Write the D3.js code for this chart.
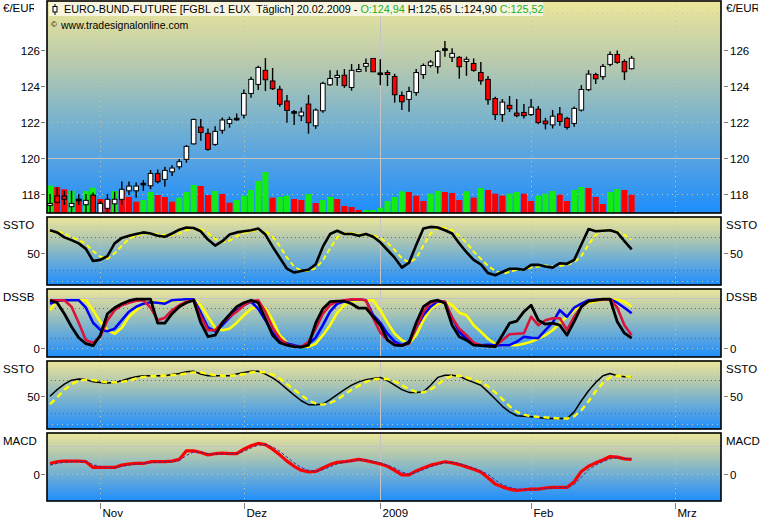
<!DOCTYPE html>
<html><head><meta charset="utf-8">
<script src="https://cdn.jsdelivr.net/npm/d3@7/dist/d3.min.js"></script>
<style>
body{margin:0;background:#fff;}
text{font-family:"Liberation Sans",Arial,sans-serif;white-space:pre;}
</style>
</head><body><svg id="c" width="769" height="520"></svg>
<script>
// ---------- DATA ----------
const dates = [
 "2008-10-23","2008-10-24","2008-10-27","2008-10-28","2008-10-29","2008-10-30","2008-10-31",
 "2008-11-03","2008-11-04","2008-11-05","2008-11-06","2008-11-07","2008-11-10","2008-11-11","2008-11-12","2008-11-13","2008-11-14",
 "2008-11-17","2008-11-18","2008-11-19","2008-11-20","2008-11-21","2008-11-24","2008-11-25","2008-11-26","2008-11-27","2008-11-28",
 "2008-12-01","2008-12-02","2008-12-03","2008-12-04","2008-12-05","2008-12-08","2008-12-09","2008-12-10","2008-12-11","2008-12-12",
 "2008-12-15","2008-12-16","2008-12-17","2008-12-18","2008-12-19","2008-12-22","2008-12-23","2008-12-29","2008-12-30",
 "2009-01-02","2009-01-05","2009-01-06","2009-01-07","2009-01-08","2009-01-09","2009-01-12","2009-01-13","2009-01-14","2009-01-15","2009-01-16",
 "2009-01-19","2009-01-20","2009-01-21","2009-01-22","2009-01-23","2009-01-26","2009-01-27","2009-01-28","2009-01-29","2009-01-30",
 "2009-02-02","2009-02-03","2009-02-04","2009-02-05","2009-02-06","2009-02-09","2009-02-10","2009-02-11","2009-02-12","2009-02-13",
 "2009-02-16","2009-02-17","2009-02-18","2009-02-19","2009-02-20"];
const futureDates = ["2009-02-23","2009-02-24","2009-02-25","2009-02-26","2009-02-27","2009-03-02"];

const open  = [117.37,117.90,117.89,117.30,117.67,117.41,117.94,116.85,117.21,117.46,117.71,118.18,118.18,118.55,118.46,119.14,118.81,119.23,119.51,119.92,
 120.78,121.71,121.36,120.75,121.53,121.91,122.15,122.37,123.57,124.07,124.85,124.26,123.80,123.15,122.52,122.33,122.98,121.78,122.61,124.05,
 124.46,124.58,123.90,124.79,125.07,125.51,124.66,124.73,124.51,123.46,123.24,123.62,124.62,125.12,125.05,126.00,125.57,125.57,125.34,125.23,
 124.73,124.35,123.29,122.40,122.91,122.48,122.52,122.40,122.70,122.04,121.83,122.43,122.19,121.91,122.65,123.78,124.62,124.50,125.18,125.73,125.34,124.94];
const high  = [118.00,118.37,118.18,118.18,118.00,118.00,118.08,117.60,118.00,118.13,118.70,118.70,118.64,118.78,119.33,119.36,119.51,119.60,119.94,120.71,
 122.18,122.15,121.63,121.76,122.24,122.28,122.46,123.79,124.50,125.10,125.53,124.98,123.99,123.48,122.65,122.80,123.48,122.74,124.22,124.86,
 124.86,124.92,125.20,125.20,125.51,125.51,125.47,124.86,124.66,123.68,123.94,124.92,125.23,125.42,125.98,126.47,126.07,125.64,125.61,125.51,
 125.31,124.53,123.39,123.26,123.43,123.26,122.98,123.26,122.87,122.22,122.65,122.82,122.28,122.85,124.03,124.86,124.71,125.20,125.90,125.95,125.46,125.65];
const low   = [116.90,117.48,117.40,116.93,117.40,116.93,116.70,116.70,116.99,116.93,117.40,117.95,117.80,118.18,118.27,118.59,118.40,119.00,119.36,119.73,
 120.74,120.95,120.40,120.67,121.34,121.67,122.06,122.18,123.33,123.76,123.70,123.76,122.83,121.95,121.82,122.04,121.34,121.61,122.50,124.00,
 124.00,123.88,123.72,124.75,124.77,124.77,124.03,123.98,123.06,122.65,122.56,123.44,124.38,125.01,124.68,125.60,125.31,124.38,124.55,124.77,
 124.05,122.94,122.10,122.00,122.54,122.25,122.18,122.32,121.86,121.58,121.63,121.78,121.58,121.72,122.57,123.70,124.09,124.33,125.08,125.21,124.31,124.90];
const close = [117.48,117.54,117.71,117.48,117.67,117.65,116.85,117.48,117.71,117.71,118.26,118.44,118.44,118.55,119.14,118.68,119.31,119.44,119.79,120.64,
 122.13,121.41,120.47,121.47,122.10,122.13,122.15,123.57,124.35,125.01,124.33,123.83,122.97,122.63,122.52,122.54,121.95,122.65,124.13,124.40,
 124.57,124.00,124.85,124.90,125.23,124.77,124.66,124.62,123.50,123.11,123.68,124.73,125.12,125.31,125.90,126.00,125.79,125.05,125.46,124.85,
 124.27,123.22,122.40,123.09,122.72,122.34,122.34,122.81,121.96,121.89,122.31,122.02,121.69,122.74,123.79,124.64,124.38,125.07,125.73,125.29,124.77,125.52];

const volume = [683,650,593,550,350,550,633,350,325,550,550,400,283,325,525,450,400,283,383,525,
 700,675,450,550,475,258,325,433,575,800,1025,383,400,433,350,325,475,250,325,400,
 350,175,150,75,75,75,133,300,400,542,525,433,300,483,550,525,500,325,542,383,
 625,575,483,433,483,525,483,300,433,483,550,458,300,575,650,625,400,225,525,600,575,458];
const volUp = [1,0,0,1,0,1,1,0,0,1,0,0,0,1,1,0,0,0,1,1,
 1,0,0,1,0,0,1,1,1,1,1,0,1,1,0,0,1,0,1,1,
 0,0,0,0,1,1,1,1,1,1,0,0,0,1,1,0,0,0,1,0,
 1,0,0,0,1,1,0,0,1,1,1,0,0,1,1,0,0,0,1,1,0,0];

const sstoK = [92,88,79,74,68,58,36,38,45,68,78,82,85,88,86,82,80,86,93,97,
 96,90,75,64,72,84,88,90,92,95,84,62,42,22,15,18,20,30,62,85,
 91,85,85,82,85,80,70,56,42,24,33,65,95,98,97,92,86,68,52,38,
 30,14,10,16,22,22,20,29,29,26,24,32,31,38,66,94,90,91,92,88,72,57];
const sstoD = [89,90,86,80,74,67,54,44,40,50,64,76,82,85,86,85,83,83,86,92,
 95,94,87,76,70,73,81,87,90,92,90,80,63,42,26,18,18,23,37,59,
 79,87,87,84,84,82,78,69,56,41,33,41,64,86,97,96,92,82,69,53,
 40,27,18,13,16,20,21,24,26,28,26,27,29,34,45,66,83,92,91,90,83,76];

const dssbBlack = [95,90,68,42,20,8,4,25,68,80,88,94,97,97,97,49,49,68,82,90,
 95,50,22,25,50,66,82,90,95,90,58,25,10,5,2,1,5,49,78,92,
 93,93,88,79,79,62,45,15,5,4,10,50,82,92,95,89,45,22,15,5,
 4,3,2,25,49,53,72,85,55,47,49,45,25,52,82,93,95,97,97,52,29,19];
const dssbRed = [95,95,95,82,50,15,10,22,55,75,85,90,94,95,80,55,60,75,85,92,
 95,62,35,35,50,62,72,85,93,95,72,40,19,6,3,2,12,38,68,85,
 92,95,97,97,95,59,30,15,6,5,8,40,72,90,94,92,60,38,25,10,
 5,3,3,15,27,28,29,62,45,55,59,59,35,62,82,93,95,96,97,80,45,25];
const dssbBlue = [88,94,95,95,95,80,50,36,33,38,55,72,82,88,91,90,88,95,96,97,
 97,70,40,33,45,60,75,85,92,78,55,30,15,9,5,2,8,20,45,72,
 88,93,96,97,95,65,50,28,12,5,12,40,65,82,93,92,60,32,18,8,
 5,6,5,5,5,12,22,20,19,35,50,75,62,80,88,95,96,97,97,90,80,69];
const dssbYellow = [75,93,95,95,95,95,75,52,35,28,40,62,75,88,92,92,92,93,95,96,
 97,85,62,40,35,38,50,65,78,82,79,55,25,10,4,2,2,8,25,45,
 70,85,92,95,95,95,75,50,28,15,8,25,55,78,88,92,85,70,65,45,
 32,18,8,5,5,5,8,12,18,25,35,49,62,75,85,90,93,96,97,96,92,82];

const ssto2K = [50,62,72,79,81,80,76,75,74,75,78,82,85,87,87,87,87,89,91,94,
 95,90,87,87,87,87,90,93,95,95,90,83,74,63,52,42,35,35,36,44,
 53,62,70,76,80,82,84,78,70,62,57,57,58,70,84,88,88,86,80,75,
 70,58,45,32,22,15,14,13,12,10,10,10,10,22,42,60,75,87,91,87,85,85];
const ssto2D = [36,48,62,72,78,80,79,77,75,75,76,78,82,85,86,87,87,88,89,91,
 93,93,90,88,87,87,88,90,93,94,93,89,82,72,62,52,43,37,35,38,
 44,53,62,69,76,80,82,81,77,70,63,58,57,62,71,81,87,87,84,80,
 75,68,57,45,32,22,17,14,13,12,11,10,10,14,25,41,59,74,84,87,86,85];

const macd = [0.19,0.22,0.23,0.23,0.23,0.22,0.12,0.12,0.12,0.12,0.16,0.18,0.19,0.19,0.22,0.22,0.22,0.23,0.26,0.41,
 0.41,0.38,0.34,0.36,0.37,0.36,0.36,0.44,0.50,0.54,0.52,0.44,0.34,0.23,0.14,0.07,0.04,0.05,0.11,0.17,
 0.21,0.22,0.24,0.26,0.24,0.21,0.18,0.14,0.07,-0.01,-0.01,0.06,0.11,0.16,0.19,0.22,0.20,0.17,0.13,0.09,
 0.04,-0.06,-0.17,-0.22,-0.26,-0.28,-0.27,-0.26,-0.26,-0.24,-0.23,-0.23,-0.23,-0.13,0.05,0.14,0.20,0.25,0.31,0.30,0.27,0.26];
const macdSignal = [0.16,0.19,0.21,0.22,0.23,0.22,0.17,0.13,0.12,0.12,0.14,0.16,0.18,0.19,0.20,0.21,0.22,0.22,0.24,0.33,
 0.39,0.39,0.36,0.35,0.36,0.36,0.36,0.40,0.46,0.51,0.52,0.48,0.40,0.30,0.20,0.12,0.07,0.05,0.08,0.13,
 0.18,0.21,0.23,0.25,0.25,0.23,0.20,0.16,0.11,0.04,0.00,0.03,0.08,0.13,0.17,0.20,0.21,0.19,0.15,0.11,
 0.06,0.00,-0.10,-0.18,-0.23,-0.26,-0.27,-0.27,-0.26,-0.25,-0.24,-0.23,-0.23,-0.18,-0.05,0.08,0.16,0.22,0.27,0.29,0.28,0.27];

const priceTicks = [118,120,122,124,126];
const priceGrid = [118,122,124,126,128];
const monthTicks = [
 {date:"2008-11-03",label:"Nov",year:false},
 {date:"2008-12-01",label:"Dez",year:false},
 {date:"2009-01-02",label:"2009",year:true},
 {date:"2009-02-02",label:"Feb",year:false},
 {date:"2009-03-02",label:"Mrz",year:false}];

// ---------- LAYOUT ----------
const svg = d3.select("#c");
const L = 47, R = 721;
const P = {
  main:{top:1,bottom:213},
  ssto:{top:217,bottom:285},
  dssb:{top:289,bottom:357},
  ssto2:{top:361,bottom:429},
  macd:{top:433,bottom:501}
};
const allDates = dates.concat(futureDates);
const idx = d => allDates.indexOf(d);
const x = d3.scaleLinear().domain([0, 87]).range([50, 674.7]);

const yMain = d3.scaleLinear().domain([116.95, 128.69]).range([213, 1]);
const ySsto = d3.scaleLinear().domain([0,100]).range([280.8, 225.8]);
const yDssb = d3.scaleLinear().domain([0,100]).range([347.7, 297.7]);
const ySsto2 = d3.scaleLinear().domain([0,100]).range([424.1, 368.5]);
const yMacd = d3.scaleLinear().domain([0,0.5]).range([474.3, 445.7]);
const vH = d3.scaleLinear().domain([0,1100]).range([0,44]);

const defs = svg.append("defs");
const g = defs.append("linearGradient").attr("id","bg").attr("x1",0).attr("y1",0).attr("x2",0).attr("y2",1);
[[0,"#ece69a"],[0.3,"#b6c9ae"],[0.55,"#7cb4cc"],[0.8,"#4a9ee8"],[1,"#1c8efc"]]
  .forEach(s=>g.append("stop").attr("offset",s[0]).attr("stop-color",s[1]));

svg.append("rect").attr("width",769).attr("height",520).attr("fill","#fff");

Object.entries(P).forEach(([k,p])=>{
  defs.append("clipPath").attr("id","clip-"+k).append("rect")
    .attr("x",L).attr("y",p.top).attr("width",R-L).attr("height",p.bottom-p.top);
  svg.append("rect").attr("x",L).attr("y",p.top).attr("width",R-L).attr("height",p.bottom-p.top)
    .attr("fill","url(#bg)");
});

const gridDot = "#c9c6a6", gridDark = "#6c6c6c", gridSolid = "#c4c4c4";
function hLine(panel, y, color, dash, w){
  svg.append("line").attr("x1",L).attr("x2",R).attr("y1",y).attr("y2",y)
    .attr("stroke",color).attr("stroke-width",w||1).attr("stroke-dasharray",dash||null)
    .attr("clip-path","url(#clip-"+panel+")");
}
Object.entries(P).forEach(([k,p])=>{
  monthTicks.forEach(t=>{
    const xx = Math.round(x(idx(t.date)))+0.5;
    svg.append("line").attr("x1",xx).attr("x2",xx).attr("y1",p.top).attr("y2",p.bottom)
      .attr("stroke", t.year ? gridSolid : gridDot).attr("stroke-width",1)
      .attr("stroke-dasharray", t.year ? null : "1,4");
  });
});
priceGrid.forEach(v=>hLine("main", Math.round(yMain(v))+0.5, gridDot, "1,4"));
hLine("main", Math.round(yMain(120))+0.5, gridSolid, null);
[[ySsto,"ssto"],[ySsto2,"ssto2"]].forEach(([s,k])=>{
  hLine(k, Math.round(s(80))+0.5, gridDark, "1,3");
  hLine(k, Math.round(s(20))+0.5, gridDark, "1,3");
  hLine(k, Math.round(s(100))+0.5, gridDot, "1,4");
  hLine(k, Math.round(s(0))+0.5, gridDot, "1,4");
});
hLine("dssb", Math.round(yDssb(80))+0.5, gridDark, "1,3");
hLine("dssb", Math.round(yDssb(20))+0.5, gridDark, "1,3");
hLine("dssb", Math.round(yDssb(100))+0.5, gridSolid, null);
hLine("dssb", Math.round(yDssb(0))+0.5, gridDot, "1,4");
hLine("macd", Math.round(yMacd(0.5))+0.5, gridSolid, null);
hLine("macd", Math.round(yMacd(0))+0.5, gridDot, "1,4");

// volume
const gm = svg.append("g").attr("clip-path","url(#clip-main)");
gm.selectAll(".vol").data(volume).enter().append("rect")
  .attr("x",(d,i)=>x(i)-3).attr("width",6)
  .attr("y",d=>P.main.bottom - vH(d)).attr("height",d=>vH(d))
  .attr("fill",(d,i)=>volUp[i] ? "#12ec12" : "#ff0000");

// candles
const candles = dates.map((d,i)=>({i,o:open[i],h:high[i],l:low[i],c:close[i]}));
gm.selectAll(".wick").data(candles).enter().append("line")
  .attr("x1",d=>x(d.i)).attr("x2",d=>x(d.i))
  .attr("y1",d=>yMain(d.h)).attr("y2",d=>yMain(d.l))
  .attr("stroke","#000").attr("stroke-width",1.4);
gm.selectAll(".body").data(candles).enter().append("rect")
  .attr("x",d=>x(d.i)-2.3).attr("width",4.6)
  .attr("y",d=>yMain(Math.max(d.o,d.c)) - (d.o===d.c?0.8:0))
  .attr("height",d=>Math.max(1.6, Math.abs(yMain(d.o)-yMain(d.c))))
  .attr("fill",d=>d.o===d.c ? "#000" : (d.c>d.o ? "#fff" : "#ff0000"))
  .attr("stroke","#000").attr("stroke-width",1);

// lines
function drawLine(panel, arr, ys, color, w, dash){
  const line = d3.line().x((d,i)=>x(i)).y(d=>ys(d));
  svg.append("path").datum(arr).attr("d",line).attr("fill","none")
    .attr("stroke",color).attr("stroke-width",w).attr("stroke-dasharray",dash||null)
    .attr("stroke-linejoin","round")
    .attr("clip-path","url(#clip-"+panel+")");
}
drawLine("ssto", sstoD, ySsto, "#ffff00", 2, "5,3");
drawLine("ssto", sstoK, ySsto, "#000", 2.6);

drawLine("dssb", dssbYellow, yDssb, "#ffff00", 2.6);
drawLine("dssb", dssbBlue, yDssb, "#0000ff", 2.6);
drawLine("dssb", dssbRed, yDssb, "#dc143c", 2.6);
drawLine("dssb", dssbBlack, yDssb, "#000", 2.8);

drawLine("ssto2", ssto2K, ySsto2, "#000", 1.5);
drawLine("ssto2", ssto2D, ySsto2, "#ffff00", 2.4, "6,4");

drawLine("macd", macd, yMacd, "#ff0000", 3.2);
drawLine("macd", macdSignal, yMacd, "#3b2a8c", 1, "3,2");

// borders
Object.values(P).forEach(p=>{
  svg.append("rect").attr("x",L).attr("y",p.top).attr("width",R-L).attr("height",p.bottom-p.top)
    .attr("fill","none").attr("stroke","#000").attr("stroke-width",1.6);
});

// axis ticks and labels
function yLabels(vals, ys, fmt){
  vals.forEach(v=>{
    const yy = Math.round(ys(v))+0.5;
    svg.append("line").attr("x1",L-6).attr("x2",L-2).attr("y1",yy).attr("y2",yy).attr("stroke","#808080");
    svg.append("line").attr("x1",R+3).attr("x2",R+7).attr("y1",yy).attr("y2",yy).attr("stroke","#808080");
    svg.append("text").attr("x",L-7).attr("y",yy+4).attr("text-anchor","end").attr("font-size",11.5).text(fmt(v));
    svg.append("text").attr("x",R+9).attr("y",yy+4).attr("font-size",11.5).text(fmt(v));
  });
}
yLabels(priceTicks, yMain, d3.format("d"));
yLabels([50], ySsto, d3.format("d"));
yLabels([0], yDssb, d3.format("d"));
yLabels([50], ySsto2, d3.format("d"));
yLabels([0], yMacd, d3.format("d"));

// panel titles (only the currency label is clipped, as in the original)
defs.append("clipPath").attr("id","clipLeftTitle").append("rect").attr("x",0).attr("y",0).attr("width",34).attr("height",30);
defs.append("clipPath").attr("id","clipRightTitle").append("rect").attr("x",724).attr("y",0).attr("width",34).attr("height",30);
const titles = [["€/EUR",P.main.top+11,true],["SSTO",P.ssto.top+12,false],["DSSB",P.dssb.top+12,false],["SSTO",P.ssto2.top+12,false],["MACD",P.macd.top+12,false]];
titles.forEach(([t,yy,clip])=>{
  svg.append("text").attr("x",3).attr("y",yy).attr("font-size",11.5).attr("clip-path",clip?"url(#clipLeftTitle)":null).text(t);
  svg.append("text").attr("x",726).attr("y",yy).attr("font-size",11.5).attr("clip-path",clip?"url(#clipRightTitle)":null).text(t);
});

// x axis
monthTicks.forEach(t=>{
  const xx = Math.round(x(idx(t.date)))+0.5;
  svg.append("line").attr("x1",xx).attr("x2",xx).attr("y1",503).attr("y2",509).attr("stroke","#808080");
  svg.append("text").attr("x",xx+2).attr("y",517).attr("font-size",11.5).text(t.label);
});

// header
svg.append("rect").attr("x",49).attr("y",2).attr("width",494).attr("height",14).attr("fill","#f7f5e0");
svg.append("line").attr("x1",55).attr("x2",55).attr("y1",4).attr("y2",15).attr("stroke","#000");
svg.append("rect").attr("x",53).attr("y",6.5).attr("width",4).attr("height",5.5).attr("fill","#fff").attr("stroke","#000");
const ht = svg.append("text").attr("x",64).attr("y",13).attr("font-size",10.8);
ht.append("tspan").attr("fill","#000").text("EURO-BUND-FUTURE [FGBL c1 EUX  Täglich] 20.02.2009 - ");
ht.append("tspan").attr("fill","#19b219").text("O:124,94");
ht.append("tspan").attr("fill","#000").text(" H:125,65 L:124,90 ");
ht.append("tspan").attr("fill","#19b219").text("C:125,52");
svg.append("text").attr("x",51).attr("y",27).attr("font-size",8).text("©");
svg.append("text").attr("x",61).attr("y",29).attr("font-size",10.5).text("www.tradesignalonline.com");
</script>
</body></html>
